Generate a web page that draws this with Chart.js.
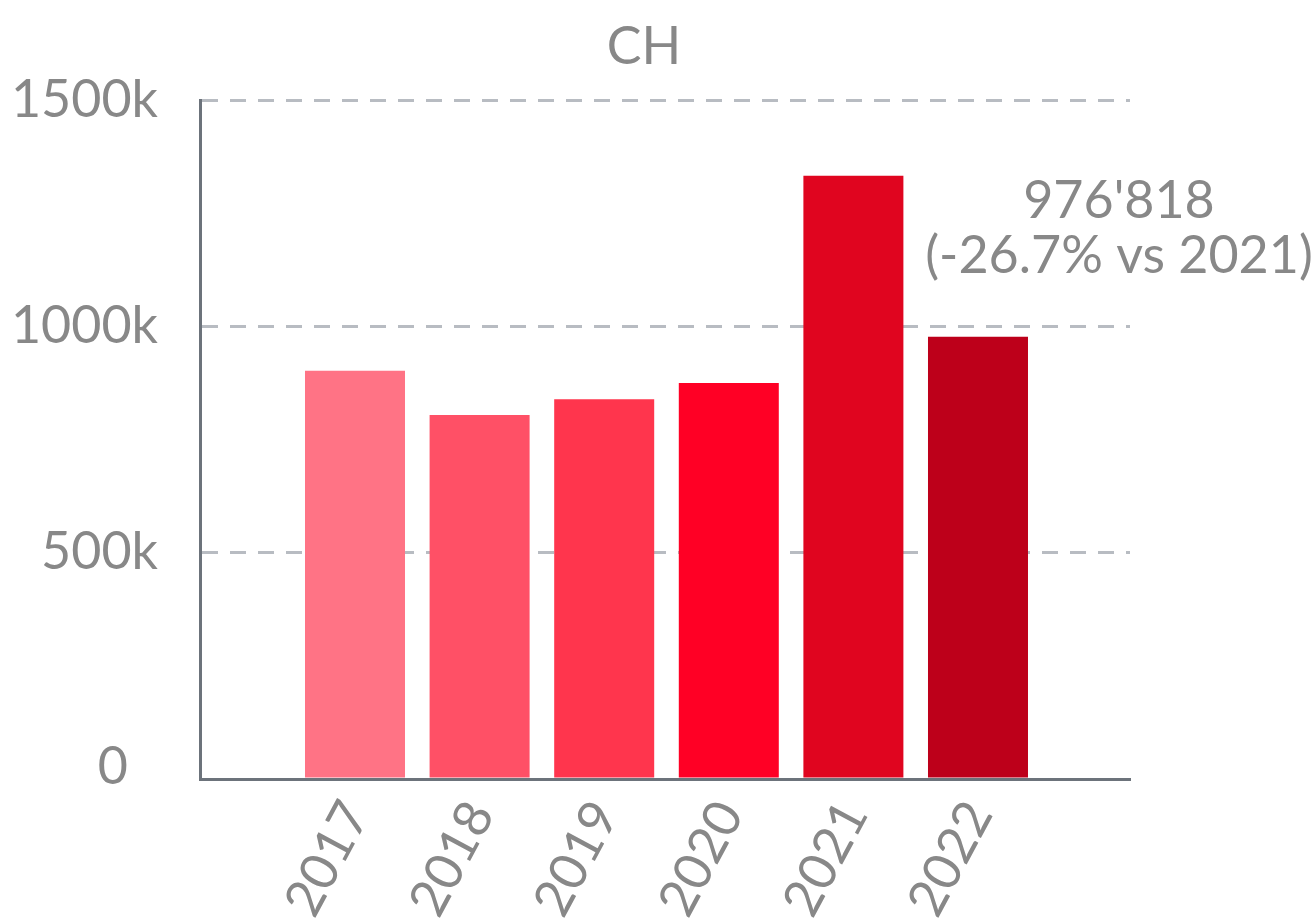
<!DOCTYPE html>
<html>
<head>
<meta charset="utf-8">
<script src="https://cdn.jsdelivr.net/npm/chart.js@4.4.1/dist/chart.umd.min.js"></script>
<style>
  html, body { margin: 0; padding: 0; background: #ffffff; }
  #wrap { width: 1312px; height: 924px; position: relative; }
</style>
</head>
<body>
<div id="wrap"><canvas id="c" width="1312" height="924"></canvas></div>
<script>
// ---- data ----
const years = ['2017', '2018', '2019', '2020', '2021', '2022'];
const visitors = [902000, 804000, 839000, 875000, 1332600, 976818];
const barColors = ['#ff7385', '#ff5066', '#ff354d', '#ff0025', '#e0051f', '#bd001a'];
const yTicks = [0, 500000, 1000000, 1500000];
const titleText = 'CH';
const noteLines = ["976'818", '(-26.7% vs 2021)'];

const GRAY = '#888888';
const FONT = 'Lato';

const points = visitors.map((v, i) => ({ x: i, y: v }));

const overlay = {
  id: 'overlay',
  afterDraw(chart) {
    const ctx = chart.ctx;
    const xs = chart.scales.x;
    ctx.save();
    ctx.fillStyle = GRAY;
    ctx.textAlign = 'center';
    ctx.textBaseline = 'middle';
    ctx.font = '52px ' + FONT;
    ctx.fillText(titleText, 644, 47);
    const nx = xs.getPixelForValue(5) + 141;
    ctx.fillText(noteLines[0], nx, 201);
    ctx.fillText(noteLines[1], nx, 256);
    ctx.restore();
  }
};

new Chart(document.getElementById('c'), {
  type: 'bar',
  data: {
    datasets: [{
      data: points,
      backgroundColor: barColors,
      borderWidth: 0,
      barPercentage: 0.8026,
      categoryPercentage: 1.0
    }]
  },
  options: {
    responsive: false,
    animation: false,
    events: [],
    layout: { padding: { left: 0, right: 182, top: 100, bottom: 0 } },
    plugins: { legend: { display: false }, title: { display: false }, tooltip: { enabled: false } },
    scales: {
      x: {
        type: 'linear',
        offset: false,
        min: -1.244,
        max: 6.22,
        afterBuildTicks(scale) { scale.ticks = years.map((_, i) => ({ value: i })); },
        afterFit(scale) { scale.height = 145; },
        grid: { display: false, drawTicks: false, offset: false },
        border: { display: true, color: '#6c737b', width: 3 },
        ticks: {
          autoSkip: false,
          minRotation: 62,
          maxRotation: 62,
          padding: 12,
          labelOffset: 1,
          color: GRAY,
          font: { family: FONT, size: 52 },
          callback: (v) => years[v] !== undefined ? years[v] : ''
        }
      },
      y: {
        min: 0,
        max: 1500000,
        afterBuildTicks(scale) { scale.ticks = yTicks.map(v => ({ value: v })); },
        afterFit(scale) { scale.width = 200; },
        grid: {
          drawTicks: false,
          lineWidth: 3,
          color: (c) => (c.tick && c.tick.value === 0) ? 'rgba(0,0,0,0)' : '#b8bcc2'
        },
        border: { display: true, color: '#6c737b', width: 3, dash: [16, 12] },
        ticks: {
          padding: 42,
          color: GRAY,
          font: (c) => (c.tick && c.tick.value === 0)
            ? { family: FONT, size: 52, lineHeight: 0.46 }
            : { family: FONT, size: 52 },
          callback: (v) => v === 0 ? ['0\u2007', ''] : (v / 1000) + 'k'
        }
      }
    }
  },
  plugins: [overlay]
});
</script>
</body>
</html>
